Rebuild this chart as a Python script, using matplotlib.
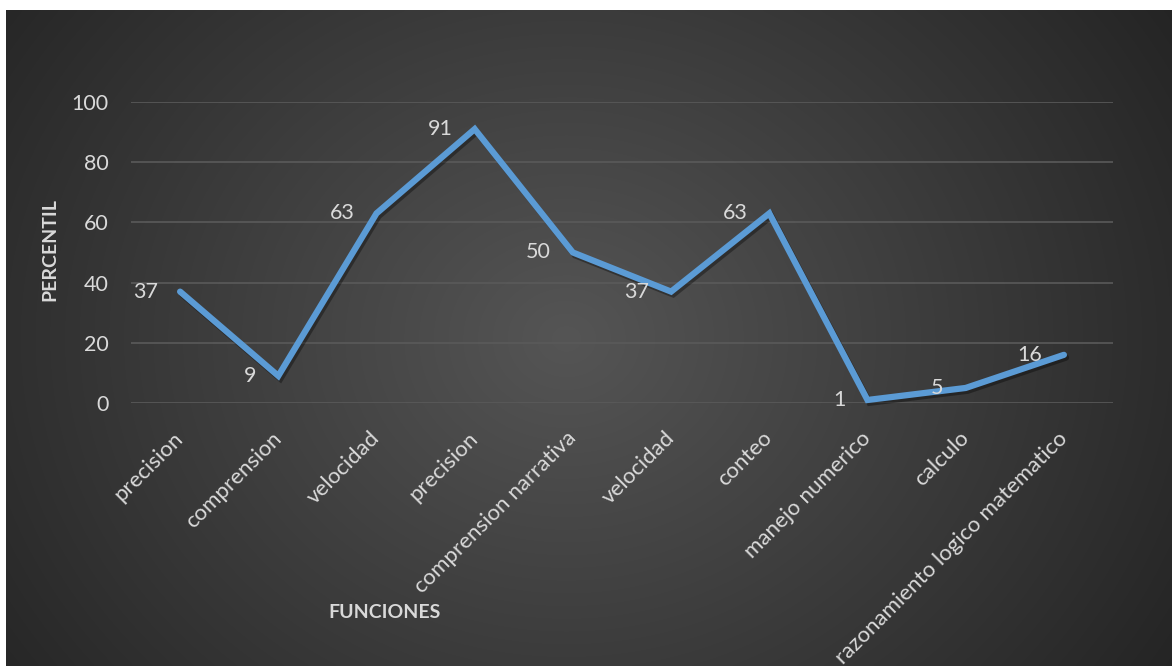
import numpy as np
import matplotlib
matplotlib.use("Agg")
import matplotlib.pyplot as plt
import matplotlib.patheffects as pe
import matplotlib.transforms as mtransforms

categories = ["precision", "comprension", "velocidad", "precision",
              "comprension narrativa", "velocidad", "conteo",
              "manejo numerico", "calculo", "razonamiento logico matematico"]
values = [37, 9, 63, 91, 50, 37, 63, 1, 5, 16]
yticks = [0, 20, 40, 60, 80, 100]

W, H = 1172, 666
fig = plt.figure(figsize=(W / 100, H / 100), dpi=100)
fig.patch.set_facecolor("white")

# background panel with radial gradient
bg = fig.add_axes([6 / W, 0, 1 - 6 / W, 1 - 10 / H])
bg.set_axis_off()
ny, nx = 330, 580
yy, xx = np.mgrid[0:ny, 0:nx]
cx, cy = nx * 0.48, ny * 0.50
r = np.sqrt(((xx - cx) / (nx * 0.62)) ** 2 + ((yy - cy) / (ny * 0.95)) ** 2)
r = np.clip(r, 0, 1)
inner, outer = 0x55 / 255, 0x24 / 255
g = inner + (outer - inner) * r
img = np.dstack([g, g, g])
bg.imshow(img, aspect="auto", extent=[0, 1, 0, 1], interpolation="bicubic")
bg.set_xlim(0, 1)
bg.set_ylim(0, 1)

font = "Lato"
tcol = "#d9d9d9"

ax = fig.add_axes([131 / W, 1 - 403 / H, (1113 - 131) / W, (403 - 102) / H])
ax.patch.set_alpha(0)
x = np.arange(len(categories))
ax.set_xlim(-0.5, len(categories) - 0.5)
ax.set_ylim(0, 100)
ax.set_yticks(yticks)
ax.set_yticklabels([str(v) for v in yticks], fontsize=15.5, color=tcol, family=font)
ax.yaxis.grid(True, color="#5a5a5a", linewidth=1.2)
ax.set_axisbelow(True)
for s in ax.spines.values():
    s.set_visible(False)
ax.tick_params(axis="y", length=0, pad=16)
ax.tick_params(axis="x", length=0, pad=18)
ax.set_xticks(x)
ax.set_xticklabels(categories, rotation=45, ha="right", va="top",
                   rotation_mode="anchor", fontsize=16, color=tcol, family=font)
shift = mtransforms.ScaledTranslation(-7 / 100, 0, fig.dpi_scale_trans)
for lab in ax.get_xticklabels():
    lab.set_transform(lab.get_transform() + shift)

ax.plot(x, values, color="#5B9BD5", linewidth=4.5, solid_joinstyle="miter",
        solid_capstyle="round", clip_on=False,
        path_effects=[pe.SimpleLineShadow(offset=(1.5, -2), shadow_color="black", alpha=0.35),
                      pe.Normal()])

for xi, v in zip(x, values):
    ax.annotate(str(v), (xi, v), xytext=(-22, 0), textcoords="offset pixels",
                ha="right", va="center", fontsize=15.5, color=tcol, family=font)

fig.text(50 / W, 1 - 250 / H, "PERCENTIL", rotation=90, ha="center", va="center",
         fontsize=14, fontweight="bold", color=tcol, family=font)
fig.text(385 / W, 1 - 613 / H, "FUNCIONES", ha="center", va="center",
         fontsize=14, fontweight="bold", color=tcol, family=font)

fig.savefig("out.png", dpi=100)
